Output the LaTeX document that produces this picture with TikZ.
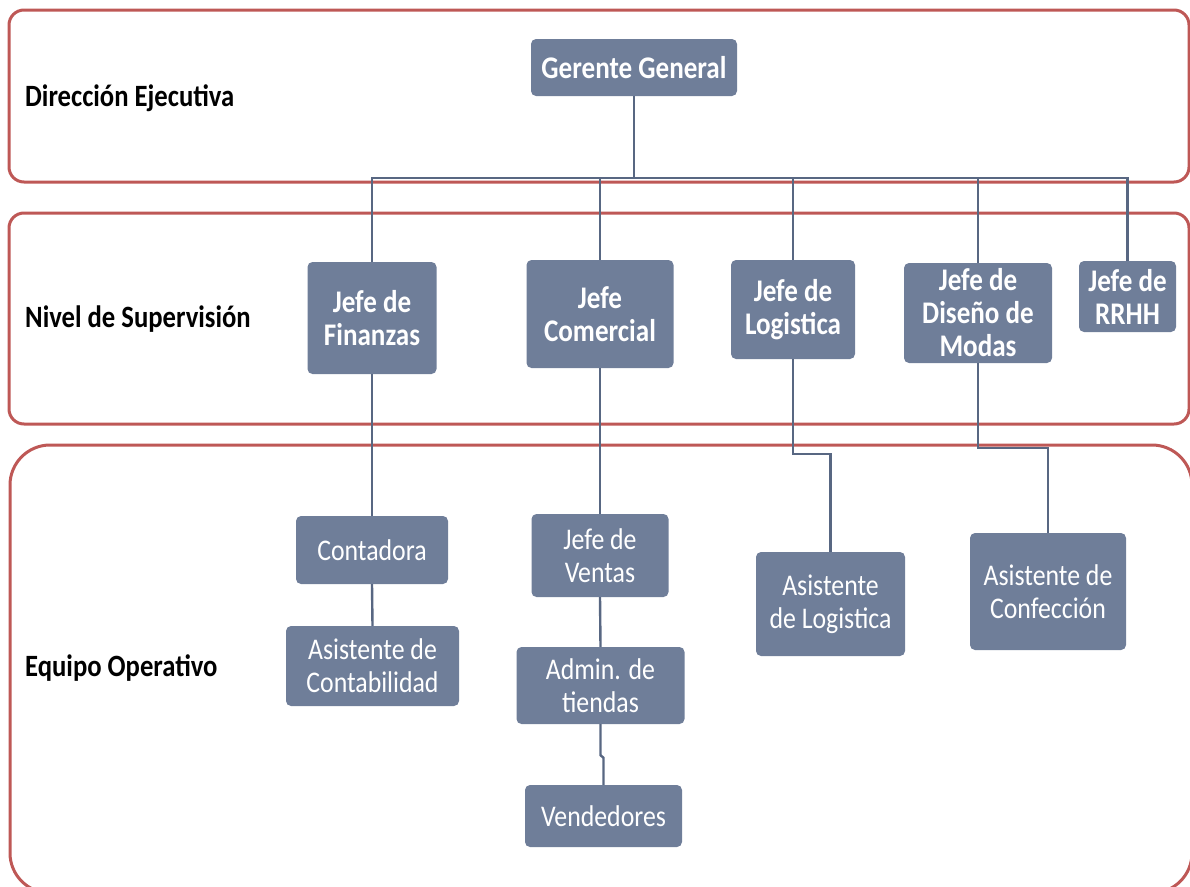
\documentclass[tikz,border=0pt]{standalone}
\usepackage{fontspec}
\setmainfont{Carlito}[FakeStretch=0.86]
\usetikzlibrary{calc}
\definecolor{bandred}{RGB}{190,88,86}
\definecolor{boxfill}{RGB}{111,126,153}
\definecolor{connc}{RGB}{88,103,130}
\tikzset{
  band/.style={draw=bandred,line width=3pt,rounded corners=15pt},
  orgbox/.style={fill=boxfill,draw=none,rounded corners=5pt,text=white,align=center,inner sep=0pt,
    font=\fontsize{31}{33}\selectfont},
  topbox/.style={orgbox,font=\fontsize{31.5}{33}\selectfont\bfseries},
  opbox/.style={orgbox,font=\fontsize{30}{33}\selectfont},
  lvl/.style={anchor=base west,inner sep=0pt,font=\fontsize{31}{33}\selectfont\bfseries},
  conn/.style={draw=connc,line width=2.4pt}
}
\begin{document}
\begin{tikzpicture}[x=1pt,y=-1pt]
\useasboundingbox (0,0) rectangle (1190,886);
\clip (0,0) rectangle (1190,886);
% bands
\draw[band] (9,10) rectangle (1189,182);
\draw[band] (9,213) rectangle (1189,424);
\draw[band,rounded corners=40pt] (10,445) rectangle (1192,893);
% level labels
\node[lvl] (l1) at (25,106) {Dirección Ejecutiva};
\node[lvl] (l2) at (25,327) {Nivel de Supervisión};
\node[lvl] (l3) at (25,676) {Equipo Operativo};
% top
\node[topbox,minimum width=206pt,minimum height=57pt] (gg) at (634,67.5) {Gerente General};
% supervision
\node[topbox,minimum width=129pt,minimum height=112pt] (fin) at (372,318) {Jefe de\\Finanzas};
\node[topbox,minimum width=147pt,minimum height=108pt] (com) at (600,314) {Jefe\\Comercial};
\node[topbox,minimum width=124pt,minimum height=99pt] (log) at (793,309.5) {Jefe de\\Logistica};
\node[topbox,minimum width=148pt,minimum height=100pt] (dis) at (978,313) {Jefe de\\Diseño de\\Modas};
\node[topbox,minimum width=97pt,minimum height=71pt] (rrhh) at (1127.5,296.5) {Jefe de\\RRHH};
% operative
\node[opbox,minimum width=152pt,minimum height=68pt] (cont) at (372,550) {Contadora};
\node[opbox,minimum width=173pt,minimum height=80pt] (acont) at (372.5,666) {Asistente de\\Contabilidad};
\node[opbox,minimum width=137pt,minimum height=83pt] (ven) at (600,555.5) {Jefe de\\Ventas};
\node[opbox,minimum width=168pt,minimum height=77pt] (adm) at (600.5,685.5) {Admin. de\\tiendas};
\node[opbox,minimum width=157pt,minimum height=62pt] (vend) at (603.5,816) {Vendedores};
\node[opbox,minimum width=149pt,minimum height=104pt] (alog) at (830.5,604) {Asistente\\de Logistica};
\node[opbox,minimum width=156pt,minimum height=117pt] (acon) at (1048,591.5) {Asistente de\\Confección};
% connectors
\coordinate (bus) at (634,178);
\draw[conn] (gg.south) -- (bus);
\draw[conn] (bus) -| (fin.north);
\draw[conn] (bus) -| (com.north);
\draw[conn] (bus) -| (log.north);
\draw[conn] (bus) -| (dis.north);
\draw[conn] (bus) -| (rrhh.north);
\draw[conn] (fin.south) -- (cont.north);
\draw[conn] (cont.south) -- (acont.north);
\draw[conn] (com.south) -- (ven.north);
\draw[conn] (ven.south) -- (adm.north);
\draw[conn] (adm.south) -- ++(0,31) -- ($(vend.north)+(0,-27)$) -- (vend.north);
\draw[conn] (log.south) -- (log.south |- 0,454) -| (alog.north);
\draw[conn] (dis.south) -- (dis.south |- 0,448) -| (acon.north);
\end{tikzpicture}
\end{document}
